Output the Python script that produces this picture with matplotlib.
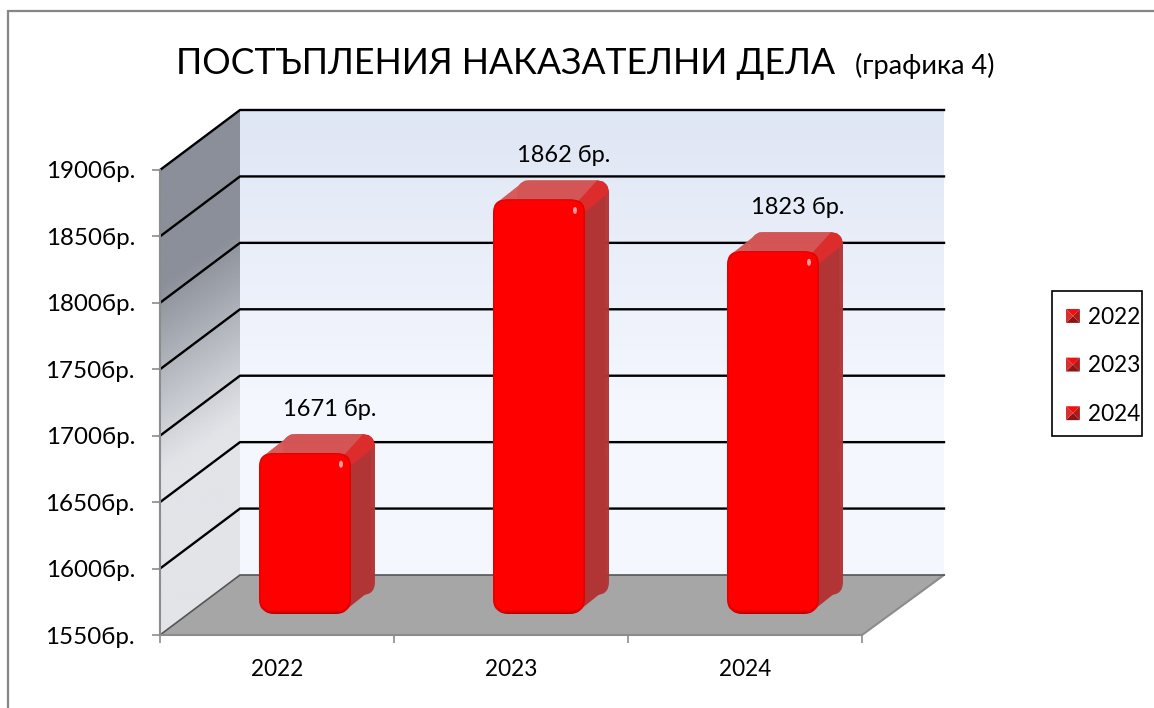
import numpy as np
import matplotlib
matplotlib.use("Agg")
import matplotlib.pyplot as plt
from matplotlib.patches import FancyBboxPatch, Polygon, Ellipse, Patch, Rectangle
from matplotlib.legend_handler import HandlerBase
from matplotlib.transforms import IdentityTransform

# data
years = ["2022", "2023", "2024"]
values = [1671, 1862, 1823]
point_labels = ["1671 бр.", "1862 бр.", "1823 бр."]
y_ticks = [1550, 1600, 1650, 1700, 1750, 1800, 1850, 1900]

plt.rcParams['font.family'] = ['Lato', 'Open Sans', 'DejaVu Sans']

W, H = 1154, 708
FS = 16.3
fig = plt.figure(figsize=(W / 100, H / 100), dpi=100, facecolor='white')

# background layer in pixel coords (frame, walls)
bg = fig.add_axes([0, 0, 1, 1], zorder=0)
bg.set_xlim(0, W)
bg.set_ylim(H, 0)
bg.axis('off')

# front plane of the chart holds the real scales
ax = fig.add_axes([160 / W, (H - 635) / H, 702 / W, 465 / H], zorder=1)
ax.patch.set_visible(False)
ax.set_xlim(-0.5, 2.5)
ax.set_ylim(1550, 1900)

DX, DY = 80, -60          # depth of the walls in px (screen, y down)


def to_px(x, v):
    px, py = ax.transData.transform((x, v))
    return px, H - py


# chart frame
bg.plot([8, 8, W], [H, 11, 11], color='#868686', lw=1.6, solid_joinstyle='miter')

# back wall gradient
x0, y_front = to_px(-0.5, 1550)
x1, y_top = to_px(2.5, 1900)
t = np.linspace(0, 1, 64)[:, None, None]
c_top = np.array([223, 230, 244]) / 255
c_bot = np.array([244, 247, 254]) / 255
back = c_top + (c_bot - c_top) * np.minimum(t * 1.6, 1)
bg.imshow(back, extent=(x0 + DX, x1 + DX + 2, y_front + DY, y_top + DY), aspect='auto', zorder=1)

# side wall gradient, clipped to its parallelogram
yy, xx = np.mgrid[0:1:128j, 0:1:32j]
s = np.clip((yy + xx * 0.1 - 0.33) / 0.36, 0, 1)[:, :, None]
c_dark = np.array([138, 143, 153]) / 255
c_light = np.array([226, 228, 232]) / 255
side_img = c_dark + (c_light - c_dark) * s
im = bg.imshow(side_img, extent=(x0, x0 + DX, y_front, y_top + DY), aspect='auto', zorder=1)
side_wall = Polygon([(x0, y_front), (x0 + DX, y_front + DY), (x0 + DX, y_top + DY), (x0, y_top)],
                    transform=bg.transData, facecolor='none', edgecolor='none')
bg.add_patch(side_wall)
im.set_clip_path(side_wall)
bg.set_xlim(0, W)
bg.set_ylim(H, 0)

# floor
bg.add_patch(Polygon([(x0, y_front), (x0 + DX, y_front + DY), (x1 + DX + 2, y_front + DY), (x1, y_front)],
                     facecolor='#a6a6a6', edgecolor='none', zorder=2))
bg.plot([x1, x1 + DX + 2], [y_front, y_front + DY], color='#8c8c8c', lw=1.5, zorder=3)
bg.plot([x0, x0 + DX, x1 + DX + 2], [y_front, y_front + DY, y_front + DY], color='#555555', lw=1.2, zorder=3)

# gridlines along the walls
for v in y_ticks[1:]:
    gx, gy = to_px(-0.5, v)
    bg.plot([gx, gx + DX, x1 + DX + 2], [gy, gy + DY, gy + DY], color='black', lw=1.7, zorder=3)

# bars
BAR_W = 92 / 234
OX, OY = 28, -21          # bar front relative to front plane
BX, BY = 24, -19          # bar depth
R = 13
disp = IdentityTransform()


def rounded(left, top, w, h, **kw):
    # pixel box (y down) to display coords
    return FancyBboxPatch((left + R, H - top - h + R), w - 2 * R, h - 2 * R,
                          boxstyle=f"round,pad={R},rounding_size={R}",
                          transform=disp, clip_on=False, **kw)


def poly(points, **kw):
    return Polygon([(px, H - py) for px, py in points], transform=disp, clip_on=False,
                   edgecolor='none', **kw)


for i, v in enumerate(values):
    l, top = to_px(i - BAR_W / 2, v)
    r, base = to_px(i + BAR_W / 2, 1550)
    l, r, top, base = l + OX, r + OX, top + OY, base + OY
    w, h = r - l, base - top
    # side and top faces
    ax.add_patch(rounded(l + BX, top + BY, w, h, facecolor='#b23535', edgecolor='none', alpha=0.97, zorder=3))
    ax.add_patch(poly([(r - 4, top + 8), (r + BX - 4, top + BY + 8), (r + BX - 3, base + BY - 6),
                       (r - 4, base - 5)], facecolor='#b23535', zorder=3))
    ax.add_patch(poly([(l + 4, top + 3), (l + BX + 8, top + BY), (r + BX - 10, top + BY),
                       (r - 6, top + 3)], facecolor='#d65656', alpha=0.97, zorder=4))
    ax.add_patch(poly([(r - 8, top + 3), (r + BX - 12, top + BY), (r + BX - 6, top + BY + 1),
                       (r + BX - 2, top + BY + 5), (r + BX, top + BY + 12), (r + 1, top + 12)],
                      facecolor='#dc2c2c', zorder=4))
    # front face: dark rim only at the base, soft edge on the sides
    ax.add_patch(rounded(l + 2, top, w - 4, h, facecolor='#b80000', edgecolor='none', zorder=5))
    ax.add_patch(rounded(l, top, w, h - 1.5, facecolor='#e40000', edgecolor='none', zorder=6))
    ax.add_patch(rounded(l + 1.5, top + 1, w - 3, h - 4.5, facecolor='#ff0000', edgecolor='none', zorder=7))
    # highlight on the corner
    ax.add_patch(Ellipse((r - 10, H - top - 11), 4, 7, transform=disp, clip_on=False,
                         facecolor='#ff9a9a', edgecolor='none', zorder=10))
    ax.annotate(point_labels[i], xy=(i, v), xytext=(53, 65), textcoords='offset pixels',
                ha='center', va='center', fontsize=17, color='black', zorder=11)

# axes
for name in ['top', 'right']:
    ax.spines[name].set_visible(False)
for name in ['left', 'bottom']:
    ax.spines[name].set_color('#8c8c8c')
    ax.spines[name].set_linewidth(1.5)
    ax.spines[name].set_zorder(2)

ax.set_yticks(y_ticks)
ax.set_yticklabels([f"{v}бр." for v in y_ticks])
ax.tick_params(axis='y', length=6, width=1.2, color='#8c8c8c', pad=12, labelsize=17.4)
ax.set_xticks([-0.5, 0.5, 1.5, 2.5])
ax.set_xticklabels([])
ax.set_xticks([0, 1, 2], labels=years, minor=True)
ax.tick_params(axis='x', which='major', length=6, width=1.2, color='#8c8c8c')
ax.tick_params(axis='x', which='minor', length=0, pad=17, labelsize=FS)

# title
fig.text(176 / W, 1 - 63 / H, "ПОСТЪПЛЕНИЯ НАКАЗАТЕЛНИ ДЕЛА", fontsize=25.7, ha='left', va='center')
fig.text(855 / W, 1 - 66 / H, "(графика 4)", fontsize=19.5, ha='left', va='center')


# legend with small bevelled keys
class BevelKey(HandlerBase):
    def create_artists(self, legend, orig_handle, xd, yd, width, height, fontsize, trans):
        x = -xd
        y = (height - 10) / 2 - yd
        a, b, c, d = (x, y), (x + 10, y), (x + 10, y + 10), (x, y + 10)
        m = (x + 5, y + 5)
        faces = [([a, b, m], '#8c1414'), ([b, c, m], '#a81c1c'),
                 ([c, d, m], '#f01010'), ([d, a, m], '#d83030')]
        return [Polygon(p, facecolor=col, edgecolor='none', transform=trans) for p, col in faces]


bg.add_patch(Rectangle((1052, 291), 90, 145, facecolor='white', edgecolor='black', lw=1.2, zorder=4))
handles = [Patch(label=y) for y in years]
leg = ax.legend(handles=handles, handler_map={Patch: BevelKey()}, loc='center left',
                bbox_to_anchor=(1066 / W, 1 - 366 / H), bbox_transform=fig.transFigure,
                fontsize=FS, frameon=False, borderpad=0, labelspacing=1.22,
                handlelength=0.6, handletextpad=0.35, borderaxespad=0)

fig.savefig("out.png", dpi=100)
